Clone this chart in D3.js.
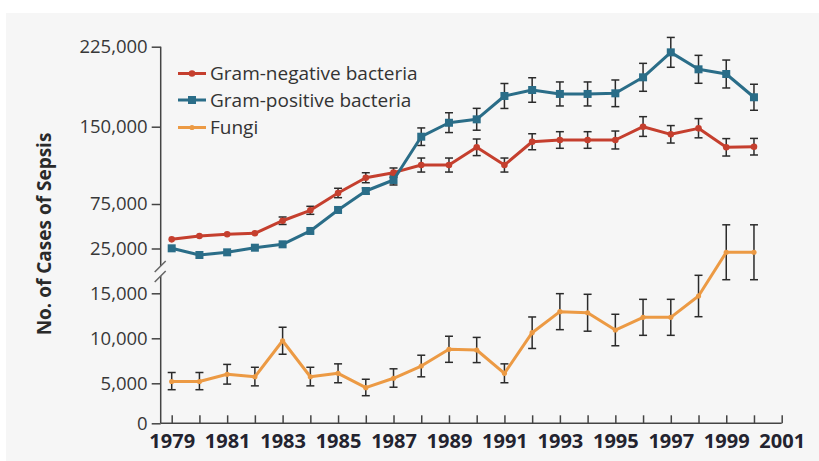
<!DOCTYPE html>
<html>
<head>
<meta charset="utf-8">
<script src="https://cdn.jsdelivr.net/npm/d3@7"></script>
<style>
  body { margin: 0; background: #fff; }
  svg { display: block; font-family: "Open Sans", "Liberation Sans", sans-serif; }
</style>
</head>
<body>
<svg width="819" height="461"></svg>
<script>
// values (cases per year), +/- error in the same units
const years = [1979, 1980, 1981, 1982, 1983, 1984, 1985, 1986, 1987, 1988, 1989,
               1990, 1991, 1992, 1993, 1994, 1995, 1996, 1997, 1998, 1999, 2000];
const gramNeg = [35300, 39000, 41000, 42100, 56200, 67900, 85700, 100500, 105400, 112800, 112800,
                 130000, 112800, 135400, 137100, 137100, 137100, 150000, 142600, 148400, 130000, 130600];
const gramNegErr = [0, 0, 0, 0, 4200, 4500, 4550, 4850, 4550, 6800, 6800,
                    8050, 6800, 7750, 8050, 8050, 8700, 9400, 8450, 9200, 8450, 8050];
const gramPos = [25200, 17700, 20700, 25900, 29700, 44700, 68300, 87600, 98300, 140300, 153700,
                 156900, 178800, 184400, 180700, 180700, 181300, 196300, 219700, 203800, 199400, 177600];
const gramPosErr = [0, 0, 0, 0, 0, 0, 0, 2900, 4850, 8500, 9400,
                    10300, 11700, 11500, 11250, 11250, 12500, 13100, 14000, 13100, 13100, 12200];
const fungi = [5200, 5200, 6000, 5730, 9730, 5730, 6110, 4450, 5560, 6920, 8780,
               8700, 6110, 10620, 12960, 12840, 10920, 12330, 12330, 14700, 19560, 19560];
const fungiErr = [1000, 1000, 1100, 1050, 1500, 1050, 1050, 1000, 1050, 1200, 1450,
                  1400, 1050, 1750, 2000, 2050, 1750, 2000, 2000, 2300, 3050, 3050];

const xTicks = [1979, 1980, 1981, 1982, 1983, 1984, 1985, 1986, 1987, 1988, 1989, 1990,
                1991, 1992, 1993, 1994, 1995, 1996, 1997, 1998, 1999, 2000, 2001];
const upperTicks = [25000, 75000, 150000, 225000];
const lowerTicks = [0, 5000, 10000, 15000];

const seriesNames = ["Gram-negative bacteria", "Gram-positive bacteria", "Fungi"];
const colors = ["#c53f2e", "#2a6d88", "#ec9a44"];

const svg = d3.select("svg");

// grey panel
svg.append("rect").attr("x", 6).attr("y", 13).attr("width", 813).attr("height", 448).attr("fill", "#f6f6f6");

const x = d3.scaleLinear().domain([1979, 2001]).range([171.7, 781.7]);
// the original axis is broken and not evenly spaced: piecewise scales
const yUp = d3.scaleLinear().domain(upperTicks).range([248.5, 204, 126.7, 46.7]);
const yLow = d3.scaleLinear().domain([0, 5000, 15000]).range([423.3, 383.3, 293.3]);

const axisX = 160.7;
const axisColor = "#444";
const fmt = d3.format(",");

// y axis, two parts
const gUp = svg.append("g").attr("transform", `translate(${axisX},0)`)
  .call(d3.axisLeft(yUp).tickValues(upperTicks).tickFormat(fmt).tickSize(9).tickPadding(4));
const gLow = svg.append("g").attr("transform", `translate(${axisX},0)`)
  .call(d3.axisLeft(yLow).tickValues(lowerTicks).tickFormat(fmt).tickSize(9).tickPadding(4));
[gUp, gLow].forEach(g => {
  g.select(".domain").remove();
  g.selectAll(".tick line").attr("stroke", axisColor).attr("stroke-width", 1.5);
  g.selectAll(".tick text").attr("fill", "#383838").style("font-size", "18.5px")
    .style("font-family", '"Open Sans", sans-serif');
});

// axis line with break
const breakTop = 266, breakBot = 276;
svg.append("line").attr("x1", axisX).attr("x2", axisX)
  .attr("y1", yUp(225000)).attr("y2", breakTop)
  .attr("stroke", axisColor).attr("stroke-width", 1.5);
svg.append("line").attr("x1", axisX).attr("x2", axisX)
  .attr("y1", breakBot).attr("y2", yLow(0))
  .attr("stroke", axisColor).attr("stroke-width", 1.5);
[breakTop, breakBot].forEach(yy => {
  svg.append("line")
    .attr("x1", axisX - 6).attr("y1", yy + 6)
    .attr("x2", axisX + 5).attr("y2", yy - 5)
    .attr("stroke", "#666").attr("stroke-width", 1.5);
});

// x axis
const gx = svg.append("g").attr("transform", `translate(0,${yLow(0)})`)
  .call(d3.axisBottom(x).tickValues(xTicks).tickSize(-8).tickSizeOuter(0)
    .tickFormat(d => d % 2 === 1 ? d : ""));
gx.select(".domain").attr("d", `M${axisX},0H${x(2001)}`).attr("stroke", axisColor).attr("stroke-width", 1.5);
gx.selectAll(".tick line").attr("stroke", axisColor).attr("stroke-width", 1.5);
gx.selectAll(".tick text").attr("fill", "#23232f").attr("y", 11)
  .style("font-size", "20px").style("font-weight", "bold")
  .style("font-family", '"Open Sans", sans-serif');

// y title
svg.append("text")
  .attr("transform", "translate(51,234) rotate(-90)")
  .attr("text-anchor", "middle")
  .attr("fill", "#2a2a2a")
  .style("font-size", "19px").style("font-weight", "bold")
  .text("No. of Cases of Sepsis");

// series
const series = [
  { vals: gramNeg, err: gramNegErr, y: yUp, color: colors[0], marker: "circle" },
  { vals: gramPos, err: gramPosErr, y: yUp, color: colors[1], marker: "square" },
  { vals: fungi, err: fungiErr, y: yLow, color: colors[2], marker: "small" }
];

const line = (s) => d3.line().x((d, i) => x(years[i])).y(d => s.y(d));

// error bars first
series.forEach(s => {
  const g = svg.append("g").attr("stroke", "#2b2b2b").attr("stroke-width", 1.5).attr("fill", "none");
  s.vals.forEach((v, i) => {
    const e = s.err[i];
    if (!e) return;
    const cx = x(years[i]);
    const t = s.y(v + e), b = s.y(v - e);
    g.append("line").attr("x1", cx).attr("x2", cx).attr("y1", t).attr("y2", b);
    g.append("line").attr("x1", cx - 4).attr("x2", cx + 4).attr("y1", t).attr("y2", t);
    g.append("line").attr("x1", cx - 4).attr("x2", cx + 4).attr("y1", b).attr("y2", b);
  });
});

// order: fungi, red, blue on top
[2, 0, 1].forEach(k => {
  const s = series[k];
  svg.append("path").datum(s.vals)
    .attr("fill", "none").attr("stroke", s.color).attr("stroke-width", 3)
    .attr("stroke-linejoin", "round")
    .attr("d", line(s));
  const g = svg.append("g").attr("fill", s.color);
  if (s.marker === "square") {
    g.selectAll("rect").data(s.vals).enter().append("rect")
      .attr("x", (d, i) => x(years[i]) - 4).attr("y", d => s.y(d) - 4)
      .attr("width", 8).attr("height", 8);
  } else {
    g.selectAll("circle").data(s.vals).enter().append("circle")
      .attr("cx", (d, i) => x(years[i])).attr("cy", d => s.y(d))
      .attr("r", s.marker === "circle" ? 3.3 : 2.6);
  }
});

// legend
const legY = [73.5, 100, 127.5];
const leg = svg.append("g");
seriesNames.forEach((name, k) => {
  const s = series[k];
  leg.append("line").attr("x1", 178).attr("x2", 206).attr("y1", legY[k]).attr("y2", legY[k])
    .attr("stroke", s.color).attr("stroke-width", 3);
  if (s.marker === "square") {
    leg.append("rect").attr("x", 188).attr("y", legY[k] - 4).attr("width", 8).attr("height", 8).attr("fill", s.color);
  } else {
    leg.append("circle").attr("cx", 192).attr("cy", legY[k]).attr("r", s.marker === "circle" ? 3.3 : 2.6).attr("fill", s.color);
  }
  leg.append("text").attr("x", 210).attr("y", legY[k]).attr("dy", "0.35em")
    .attr("fill", "#333").style("font-size", "19px").text(name);
});
</script>
</body>
</html>
